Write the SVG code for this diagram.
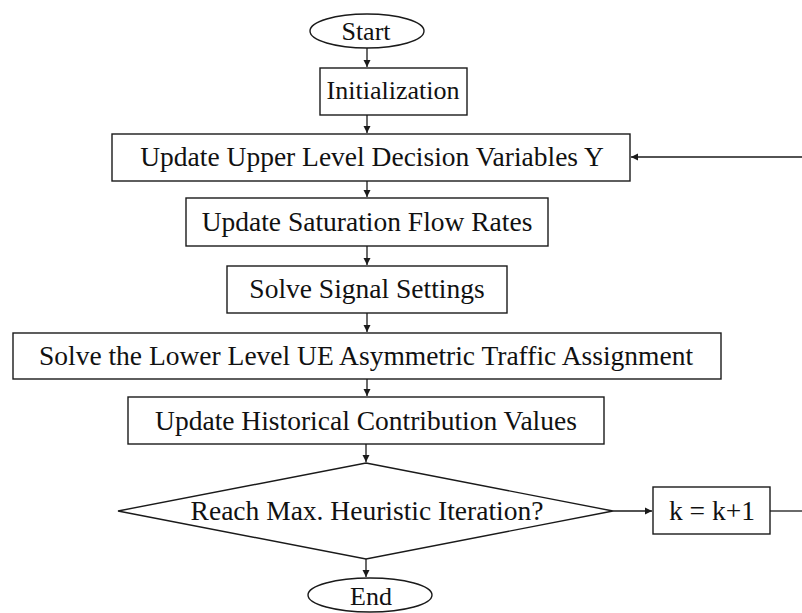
<svg xmlns="http://www.w3.org/2000/svg" width="802" height="613" viewBox="0 0 802 613">
<defs>
<style>
.s{fill:#fff;stroke:#1a1a1a;stroke-width:1.4}
.t{font-family:"Liberation Serif","Times New Roman",serif;font-size:27.5px;fill:#111;text-anchor:middle}
.sm{font-size:26px}
.c{fill:none;stroke:#1a1a1a;stroke-width:1.3}
</style>
<marker id="ah" markerWidth="8" markerHeight="8" refX="7" refY="4" orient="auto" markerUnits="userSpaceOnUse">
<path d="M0,0.5 L7,4 L0,7.5 Z" fill="#1a1a1a"/>
</marker>
</defs>
<rect width="802" height="613" fill="#fff"/>
<g id="connectors">
<line class="c" x1="367" y1="48" x2="367" y2="67" marker-end="url(#ah)"/>
<line class="c" x1="367" y1="115" x2="367" y2="133" marker-end="url(#ah)"/>
<line class="c" x1="367" y1="181" x2="367" y2="197" marker-end="url(#ah)"/>
<line class="c" x1="367" y1="246" x2="367" y2="265" marker-end="url(#ah)"/>
<line class="c" x1="367" y1="313" x2="367" y2="332" marker-end="url(#ah)"/>
<line class="c" x1="367" y1="379" x2="367" y2="396" marker-end="url(#ah)"/>
<line class="c" x1="366" y1="444" x2="366" y2="462" marker-end="url(#ah)"/>
<line class="c" x1="366" y1="559" x2="366" y2="577" marker-end="url(#ah)"/>
<line class="c" x1="613" y1="511" x2="652" y2="511" marker-end="url(#ah)"/>
<line class="c" x1="770" y1="511" x2="802" y2="511"/>
<line class="c" x1="802" y1="157" x2="631" y2="157" marker-end="url(#ah)"/>
</g>
<g id="start">
<ellipse class="s" cx="367" cy="31" rx="57" ry="17"/>
<text class="t sm" x="366" y="40">Start</text>
</g>
<g id="init">
<rect class="s" x="320" y="68" width="147" height="47"/>
<text class="t sm" x="393" y="99">Initialization</text>
</g>
<g id="upper">
<rect class="s" x="112" y="134" width="518" height="47"/>
<text class="t" x="372" y="166">Update Upper Level Decision Variables Y</text>
</g>
<g id="saturation">
<rect class="s" x="186" y="198" width="362" height="48"/>
<text class="t" x="367" y="231">Update Saturation Flow Rates</text>
</g>
<g id="signal">
<rect class="s" x="227" y="266" width="280" height="47"/>
<text class="t" x="367" y="298">Solve Signal Settings</text>
</g>
<g id="lower">
<rect class="s" x="13" y="333" width="708" height="46"/>
<text class="t" x="366" y="365">Solve the Lower Level UE Asymmetric Traffic Assignment</text>
</g>
<g id="historical">
<rect class="s" x="128" y="397" width="476" height="47"/>
<text class="t" x="366" y="430">Update Historical Contribution Values</text>
</g>
<g id="decision">
<polygon class="s" points="366,463 613,511 366,559 118,511"/>
<text class="t" x="367" y="520">Reach Max. Heuristic Iteration?</text>
</g>
<g id="increment">
<rect class="s" x="653" y="487" width="117" height="47"/>
<text class="t" x="712" y="520">k = k+1</text>
</g>
<g id="end">
<ellipse class="s" cx="370" cy="595" rx="62" ry="17"/>
<text class="t sm" x="371" y="605">End</text>
</g>
</svg>
